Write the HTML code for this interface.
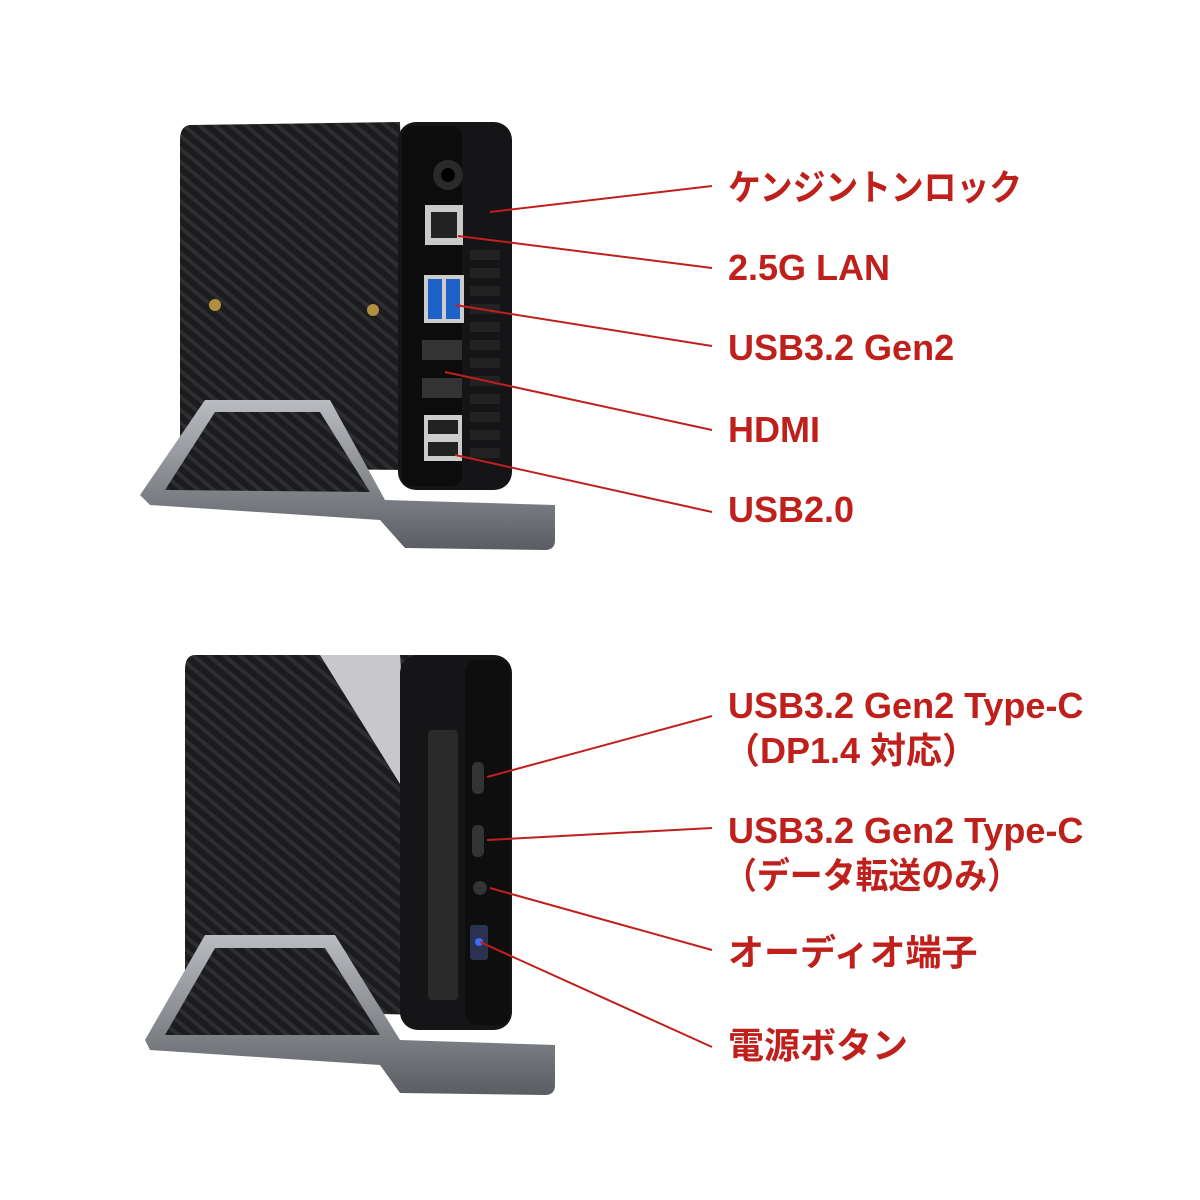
<!DOCTYPE html>
<html><head><meta charset="utf-8"><style>
html,body{margin:0;padding:0;background:#fff;width:1200px;height:1200px;overflow:hidden}
svg{display:block}
text{font-family:"Liberation Sans","Noto Sans CJK JP",sans-serif;font-weight:bold;fill:#c0201c;font-size:36px}
</style></head><body>
<svg width="1200" height="1200" viewBox="0 0 1200 1200" xmlns="http://www.w3.org/2000/svg">
<defs>
<pattern id="st" width="10" height="10" patternUnits="userSpaceOnUse" patternTransform="rotate(-50)">
<rect width="10" height="10" fill="#1c1c1e"/><rect width="4" height="10" fill="#2e2e31"/></pattern>
<linearGradient id="sg" x1="0" y1="0" x2="0" y2="1"><stop offset="0" stop-color="#b9bcc0"/><stop offset="1" stop-color="#5a5d62"/></linearGradient>
</defs>
<path d="M190 125 L400 122 L410 470 L195 468 Q180 466 180 450 L180 140 Q180 126 190 125Z" fill="url(#st)"/>
<rect x="398" y="122" width="114" height="368" rx="18" fill="#151517"/>
<rect x="402" y="126" width="60" height="360" rx="10" fill="#0c0c0d"/>
<circle cx="448" cy="175" r="15" fill="#2a2a2c"/><circle cx="448" cy="175" r="7" fill="#000"/>
<rect x="425" y="205" width="38" height="40" fill="#c9c9c9"/><rect x="431" y="212" width="26" height="26" fill="#222"/>
<rect x="424" y="275" width="40" height="48" fill="#ccc"/><rect x="428" y="279" width="14" height="40" fill="#1d62c8"/><rect x="446" y="279" width="14" height="40" fill="#1d62c8"/>
<rect x="422" y="340" width="40" height="20" fill="#333"/><rect x="422" y="378" width="40" height="20" fill="#333"/>
<rect x="424" y="415" width="38" height="46" fill="#ccc"/><rect x="428" y="420" width="30" height="14" fill="#222"/><rect x="428" y="442" width="30" height="14" fill="#222"/>
<g fill="#222"><rect x="470" y="250" width="30" height="10"/><rect x="470" y="268" width="30" height="10"/><rect x="470" y="286" width="30" height="10"/><rect x="470" y="304" width="30" height="10"/><rect x="470" y="322" width="30" height="10"/><rect x="470" y="340" width="30" height="10"/><rect x="470" y="358" width="30" height="10"/><rect x="470" y="376" width="30" height="10"/><rect x="470" y="394" width="30" height="10"/><rect x="470" y="412" width="30" height="10"/><rect x="470" y="430" width="30" height="10"/><rect x="470" y="448" width="30" height="10"/></g>
<circle cx="215" cy="305" r="6" fill="#b09040"/><circle cx="373" cy="310" r="6" fill="#b09040"/>
<path d="M140 495 L205 400 L330 400 L385 500 L555 505 L555 540 Q555 550 545 550 L405 548 L380 520 L150 505Z" fill="url(#sg)"/>
<path d="M165 490 L215 412 L320 412 L370 492 Z" fill="url(#st)"/>
<path d="M195 655 L420 655 L425 1015 L200 1010 Q185 1005 185 990 L185 670 Q185 655 195 655Z" fill="url(#st)"/>
<path d="M320 655 L400 655 L410 800 Z" fill="#c8c8cc"/>
<rect x="400" y="655" width="112" height="375" rx="18" fill="#151517"/>
<rect x="428" y="730" width="30" height="270" rx="4" fill="#2a2a2a"/>
<rect x="465" y="660" width="45" height="365" rx="12" fill="#0e0e0f"/>
<rect x="472" y="762" width="12" height="32" rx="5" fill="#333"/><rect x="472" y="825" width="12" height="32" rx="5" fill="#333"/>
<circle cx="480" cy="888" r="7" fill="#333"/>
<rect x="470" y="925" width="18" height="35" rx="3" fill="#2a3250"/><circle cx="479" cy="942" r="4" fill="#3a6cff"/>
<path d="M145 1040 L205 935 L335 935 L400 1040 L555 1045 L555 1085 Q555 1095 545 1095 L400 1093 L380 1065 L150 1050Z" fill="url(#sg)"/>
<path d="M165 1035 L215 948 L325 948 L380 1035 Z" fill="url(#st)"/>
<g stroke="#c0201c" stroke-width="2" fill="none">
<line x1="490" y1="212" x2="712" y2="186"/>
<line x1="458" y1="236" x2="712" y2="268"/>
<line x1="455" y1="305" x2="712" y2="346"/>
<line x1="445" y1="372" x2="712" y2="430"/>
<line x1="455" y1="455" x2="712" y2="512"/>
<line x1="487" y1="777" x2="712" y2="716"/>
<line x1="487" y1="840" x2="712" y2="828"/>
<line x1="490" y1="888" x2="712" y2="950"/>
<line x1="480" y1="942" x2="712" y2="1047"/>
</g>
<text x="728" y="200" textLength="294" lengthAdjust="spacingAndGlyphs">ケンジントンロック</text>
<text x="728" y="280">2.5G LAN</text>
<text x="728" y="360">USB3.2 Gen2</text>
<text x="728" y="442">HDMI</text>
<text x="728" y="522">USB2.0</text>
<text x="728" y="718">USB3.2 Gen2 Type-C</text>
<text x="724" y="763">（DP1.4 対応）</text>
<text x="728" y="843">USB3.2 Gen2 Type-C</text>
<text x="724" y="888" textLength="296" lengthAdjust="spacingAndGlyphs">（データ転送のみ）</text>
<text x="728" y="965">オーディオ端子</text>
<text x="728" y="1058">電源ボタン</text>
</svg>
</body></html>
